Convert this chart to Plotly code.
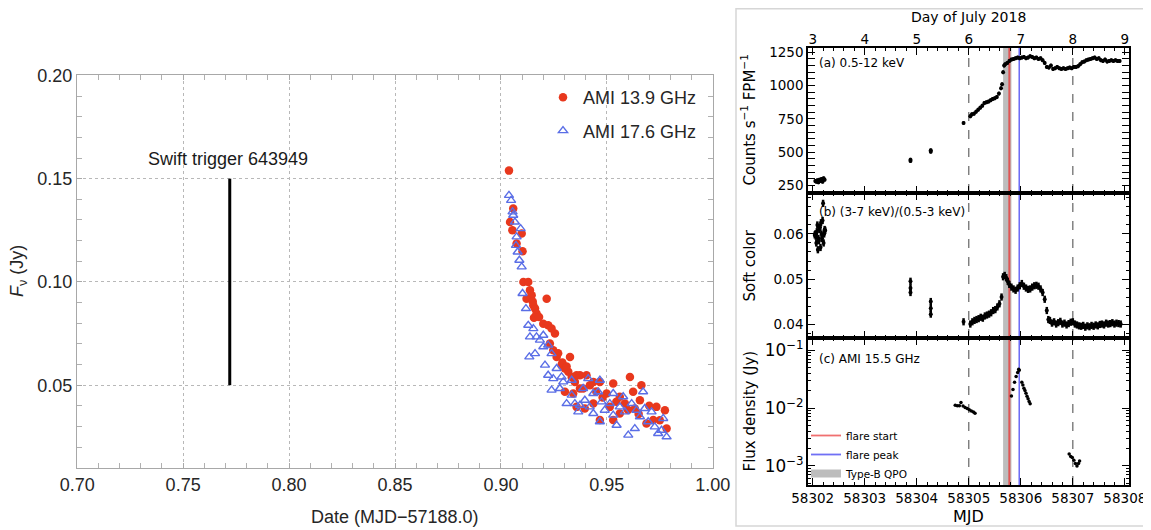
import plotly.graph_objects as go

# The page body has an 8px margin; positions below are given in window pixels.
OFF = 8
FW, FH = 1143, 522
def px(v): return (v - OFF) / FW
def py(v): return 1 - (v - OFF) / FH

# ---------------- Left chart data ----------------
red_x = [0.9038, 0.9043, 0.9054, 0.9058, 0.9074, 0.9098, 0.9102, 0.9106, 0.9129, 0.9137,
         0.9145, 0.9121, 0.9153, 0.9161, 0.9168, 0.9156, 0.9216, 0.9200, 0.9223, 0.9239,
         0.9255, 0.9231, 0.9247, 0.9263, 0.9326, 0.9286, 0.9302, 0.9318, 0.9334, 0.9357,
         0.9373, 0.9404, 0.9349, 0.9373, 0.9341, 0.9357, 0.9396, 0.9436, 0.9467, 0.9499,
         0.9530, 0.9514, 0.9467, 0.9561, 0.9609, 0.9624, 0.9585, 0.9663, 0.9656, 0.9687,
         0.9719, 0.9774, 0.9782, 0.9561, 0.9436, 0.9302, 0.9388, 0.9734, 0.9632, 0.9530,
         0.9150, 0.9180, 0.9270, 0.9290, 0.9310, 0.9420, 0.9450, 0.9480, 0.9545, 0.9600,
         0.9650, 0.9700, 0.9750]
red_y = [0.1539, 0.1290, 0.1250, 0.1355, 0.1186, 0.1234, 0.1148, 0.1000, 0.1000, 0.0960,
         0.0936, 0.0919, 0.0887, 0.0871, 0.0847, 0.0827, 0.0919, 0.0798, 0.0790, 0.0774,
         0.0750, 0.0702, 0.0669, 0.0637, 0.0637, 0.0597, 0.0581, 0.0565, 0.0540, 0.0548,
         0.0548, 0.0548, 0.0516, 0.0484, 0.0460, 0.0395, 0.0387, 0.0516, 0.0516, 0.0460,
         0.0508, 0.0395, 0.0331, 0.0444, 0.0540, 0.0468, 0.0411, 0.0500, 0.0427, 0.0315,
         0.0331, 0.0379, 0.0290, 0.0363, 0.0411, 0.0468, 0.0484, 0.0395, 0.0387, 0.0331,
         0.0905, 0.0830, 0.0655, 0.0610, 0.0590, 0.0500, 0.0470, 0.0440, 0.0420, 0.0380,
         0.0360, 0.0400, 0.0330]

blue_x = [0.9038, 0.9048, 0.9055, 0.9058, 0.9066, 0.9074, 0.9093, 0.9071, 0.9079, 0.9087,
          0.9098, 0.9102, 0.9118, 0.9129, 0.9137, 0.9153, 0.9168, 0.9184, 0.9200, 0.9223,
          0.9239, 0.9134, 0.9161, 0.9208, 0.9223, 0.9247, 0.9263, 0.9239, 0.9278, 0.9294,
          0.9310, 0.9334, 0.9349, 0.9365, 0.9388, 0.9396, 0.9412, 0.9419, 0.9459, 0.9467,
          0.9475, 0.9490, 0.9467, 0.9514, 0.9530, 0.9546, 0.9561, 0.9585, 0.9601, 0.9617,
          0.9632, 0.9640, 0.9656, 0.9671, 0.9679, 0.9695, 0.9711, 0.9726, 0.9742, 0.9766,
          0.9758, 0.9782, 0.9334, 0.9373, 0.9436, 0.9530, 0.9577, 0.9436, 0.9286, 0.9200]
blue_y = [0.1419, 0.1395, 0.1339, 0.1323, 0.1290, 0.1218, 0.1258, 0.1177, 0.1145, 0.1105,
          0.1073, 0.0944, 0.0871, 0.0790, 0.0734, 0.0774, 0.0734, 0.0718, 0.0742, 0.0694,
          0.0653, 0.0637, 0.0653, 0.0597, 0.0548, 0.0532, 0.0581, 0.0476, 0.0484, 0.0516,
          0.0411, 0.0452, 0.0411, 0.0371, 0.0484, 0.0427, 0.0532, 0.0395, 0.0468, 0.0524,
          0.0419, 0.0379, 0.0323, 0.0411, 0.0355, 0.0306, 0.0395, 0.0371, 0.0258, 0.0411,
          0.0290, 0.0379, 0.0347, 0.0468, 0.0387, 0.0323, 0.0371, 0.0298, 0.0266, 0.0339,
          0.0282, 0.0250, 0.0524, 0.0403, 0.0363, 0.0460, 0.0444, 0.0460, 0.0540, 0.0686]

swift_x = [0.772, 0.772]
swift_y = [0.05, 0.15]

# ---------------- Right chart data ----------------
a_mjd = [58302.05, 58302.07, 58302.09, 58302.11, 58302.13, 58302.15, 58302.17, 58302.19,
         58302.21, 58302.23, 58303.88, 58303.88, 58304.27, 58304.27, 58304.90,
         58305.03, 58305.06, 58305.10, 58305.14, 58305.18, 58305.22, 58305.26, 58305.30,
         58305.34, 58305.38, 58305.42, 58305.46, 58305.50, 58305.54, 58305.58, 58305.62,
         58305.64, 58305.66, 58305.68, 58305.70, 58305.74, 58305.78, 58305.82, 58305.86,
         58305.90, 58305.94, 58305.98, 58306.02, 58306.06, 58306.10, 58306.14, 58306.18,
         58306.22, 58306.26, 58306.30, 58306.34, 58306.38, 58306.42, 58306.46, 58306.50,
         58306.54, 58306.58, 58306.62, 58306.66, 58306.70, 58306.74, 58306.78, 58306.82,
         58306.86, 58306.90, 58306.94, 58306.98, 58307.02, 58307.06, 58307.10, 58307.14,
         58307.18, 58307.22, 58307.26, 58307.30, 58307.34, 58307.38, 58307.42, 58307.46,
         58307.50, 58307.54, 58307.58, 58307.62, 58307.66, 58307.70, 58307.74, 58307.78,
         58307.82, 58307.86, 58307.90]
a_counts = [285, 280, 290, 275, 295, 285, 300, 280, 305, 295, 435, 445, 505, 515, 720,
            770, 785, 790, 805, 820, 835, 850, 870, 875, 880, 890, 900, 905, 915, 940, 980,
            1010, 1100, 1150, 1160, 1170, 1185, 1195, 1200, 1205, 1210, 1205, 1210, 1215,
            1205, 1210, 1220, 1215, 1205, 1210, 1200, 1205, 1190, 1170, 1140, 1135, 1150,
            1125, 1130, 1140, 1130, 1125, 1130, 1125, 1130, 1135, 1130, 1140, 1140, 1145,
            1160, 1175, 1180, 1190, 1195, 1200, 1205, 1210, 1200, 1205, 1190, 1185, 1195,
            1180, 1185, 1190, 1185, 1190, 1185, 1185]

b_mjd = [58302.05, 58302.07, 58302.09, 58302.11, 58302.13, 58302.15, 58302.17, 58302.19,
         58302.21, 58302.23, 58302.10, 58302.16, 58302.20, 58302.06, 58302.08, 58302.12,
         58302.14, 58302.18, 58302.22, 58302.04, 58302.24,
         58303.88, 58303.88, 58303.88,
         58304.27, 58304.27, 58304.27, 58304.90,
         58305.03, 58305.07, 58305.11, 58305.15, 58305.19, 58305.23, 58305.27, 58305.31,
         58305.35, 58305.39, 58305.43, 58305.47, 58305.51, 58305.55, 58305.59, 58305.63,
         58305.66, 58305.69, 58305.72, 58305.75, 58305.78, 58305.82, 58305.86, 58305.90,
         58305.94, 58305.98, 58306.02, 58306.06, 58306.10, 58306.14, 58306.18, 58306.22,
         58306.26, 58306.30, 58306.34, 58306.38, 58306.42, 58306.46, 58306.50, 58306.53,
         58306.56, 58306.60, 58306.64, 58306.68, 58306.72, 58306.76, 58306.80, 58306.84,
         58306.88, 58306.92, 58306.96, 58307.00, 58307.04, 58307.08, 58307.12, 58307.16,
         58307.20, 58307.24, 58307.28, 58307.32, 58307.36, 58307.40, 58307.44, 58307.48,
         58307.52, 58307.56, 58307.60, 58307.64, 58307.68, 58307.72, 58307.76, 58307.80,
         58307.84, 58307.88, 58307.92]
b_color = [0.0600, 0.0580, 0.0620, 0.0590, 0.0610, 0.0570, 0.0600, 0.0630, 0.0580, 0.0610,
           0.0565, 0.0625, 0.0668, 0.0595, 0.0605, 0.0585, 0.0615, 0.0590, 0.0600, 0.0598,
           0.0608,
           0.0495, 0.0480, 0.0470,
           0.0450, 0.0435, 0.0422, 0.0405,
           0.0400, 0.0405, 0.0408, 0.0410, 0.0412, 0.0415, 0.0413, 0.0418, 0.0420, 0.0422,
           0.0425, 0.0430, 0.0432, 0.0438, 0.0445, 0.0460, 0.0505, 0.0508, 0.0503, 0.0495,
           0.0488, 0.0482, 0.0478, 0.0475, 0.0480, 0.0485, 0.0490, 0.0484, 0.0480, 0.0477,
           0.0478, 0.0482, 0.0485, 0.0486, 0.0484, 0.0478, 0.0470, 0.0455, 0.0430, 0.0410,
           0.0408, 0.0402, 0.0405, 0.0400, 0.0403, 0.0406, 0.0400, 0.0402, 0.0398, 0.0401,
           0.0404, 0.0405, 0.0400, 0.0398, 0.0396, 0.0395, 0.0397, 0.0393, 0.0396, 0.0394,
           0.0397, 0.0395, 0.0398, 0.0396, 0.0399, 0.0400, 0.0398, 0.0402, 0.0400, 0.0401,
           0.0403, 0.0400, 0.0402, 0.0401, 0.0400]

c_mjd = [58304.74, 58304.78, 58304.82, 58304.85, 58304.89, 58304.93, 58304.97, 58305.01,
         58305.05, 58305.09, 58305.12,
         58305.82, 58305.85, 58305.88, 58305.91, 58305.94, 58305.96, 58305.97,
         58306.02, 58306.04, 58306.06, 58306.08, 58306.10, 58306.12, 58306.14, 58306.16,
         58306.18,
         58306.93, 58306.96, 58306.99, 58307.02, 58307.05, 58307.08, 58307.11, 58307.13]
c_flux = [0.0112, 0.0110, 0.0110, 0.0124, 0.0108, 0.0102, 0.0098, 0.0093, 0.0089, 0.0085,
          0.0081,
          0.0162, 0.0210, 0.0280, 0.0350, 0.0410, 0.0470, 0.0450,
          0.0280, 0.0250, 0.0220, 0.0200, 0.0180, 0.0160, 0.0145, 0.0130, 0.0118,
          0.00160, 0.00145, 0.00140, 0.00125, 0.00110, 0.00100, 0.00110, 0.00122]

qpo_band = [58305.66, 58305.82]
flare_start = 58305.78
flare_peak = 58305.97
dashed_mjd = [58305.0, 58307.0]
mjd_to_day_offset = 58299

LF = "Liberation Sans"
RF = "DejaVu Sans"
RED = "#e8381d"
BLUE = "#5a6ee6"

fig = go.Figure()

# Left traces
fig.add_trace(go.Scatter(x=swift_x, y=swift_y, mode="lines", line=dict(color="black", width=3),
                         showlegend=False, xaxis="x", yaxis="y"))
fig.add_trace(go.Scatter(x=red_x, y=red_y, mode="markers", name="AMI 13.9 GHz",
                         marker=dict(color=RED, size=8.5, symbol="circle"),
                         legendgroup="g1", xaxis="x", yaxis="y"))
fig.add_trace(go.Scatter(x=blue_x, y=blue_y, mode="markers", name="AMI 17.6 GHz",
                         marker=dict(color=BLUE, size=8, symbol="triangle-up-open", line=dict(width=1.4)),
                         legendgroup="g2", xaxis="x", yaxis="y"))

# Right traces
fig.add_trace(go.Scatter(x=a_mjd, y=a_counts, mode="markers", showlegend=False,
                         marker=dict(color="black", size=4),
                         error_y=dict(type="constant", value=14, color="black", thickness=2, width=0),
                         xaxis="x2", yaxis="y2"))
fig.add_trace(go.Scatter(x=b_mjd, y=b_color, mode="markers", showlegend=False,
                         marker=dict(color="black", size=4),
                         error_y=dict(type="constant", value=0.0008, color="black", thickness=2.5, width=0),
                         xaxis="x3", yaxis="y3"))
fig.add_trace(go.Scatter(x=c_mjd, y=c_flux, mode="markers", showlegend=False,
                         marker=dict(color="black", size=3.5),
                         xaxis="x4", yaxis="y4"))
# invisible trace that carries the top "Day of July" axis
fig.add_trace(go.Scatter(x=[a_mjd[0] - mjd_to_day_offset], y=[a_counts[0]], mode="markers",
                         marker=dict(opacity=0), showlegend=False, hoverinfo="skip",
                         xaxis="x5", yaxis="y2"))

# legend2 entries
fig.add_trace(go.Scatter(x=[None], y=[None], mode="lines", name="flare start",
                         line=dict(color="#f07070", width=1.8), legend="legend2", xaxis="x4", yaxis="y4"))
fig.add_trace(go.Scatter(x=[None], y=[None], mode="lines", name="flare peak",
                         line=dict(color="#7070f5", width=1.8), legend="legend2", xaxis="x4", yaxis="y4"))
fig.add_trace(go.Scatter(x=[None], y=[None], mode="lines", name="Type-B QPO",
                         line=dict(color="#bdbdbd", width=8), legend="legend2", xaxis="x4", yaxis="y4"))

shapes = []
for xa, ya in [("x2", "y2"), ("x3", "y3"), ("x4", "y4")]:
    shapes.append(dict(type="rect", xref=xa, yref=f"{ya} domain", x0=qpo_band[0], x1=qpo_band[1],
                       y0=0, y1=1, fillcolor="#bdbdbd", line=dict(width=0), layer="below"))
    shapes.append(dict(type="line", xref=xa, yref=f"{ya} domain", x0=flare_start, x1=flare_start,
                       y0=0, y1=1, line=dict(color="#e05555", width=2), layer="below"))
    shapes.append(dict(type="line", xref=xa, yref=f"{ya} domain", x0=flare_peak, x1=flare_peak,
                       y0=0, y1=1, line=dict(color="#6a6af5", width=1.5), layer="below"))
    for d in dashed_mjd:
        shapes.append(dict(type="line", xref=xa, yref=f"{ya} domain", x0=d, x1=d, y0=0, y1=1,
                           line=dict(color="#707070", width=1.3, dash="dash"), layer="below"))
shapes.append(dict(type="rect", xref="paper", yref="paper", x0=px(736), x1=px(1150),
                   y0=py(526), y1=py(8.8), line=dict(color="#d6d6d6", width=1.5)))

left_common = dict(showline=True, linecolor="#a8a8a8", linewidth=1.3, mirror="allticks",
                   ticks="inside", ticklen=5, tickcolor="#a8a8a8", tickwidth=1,
                   showgrid=True, gridcolor="#b8b8b8", griddash="dot", gridwidth=1, zeroline=False,
                   tickfont=dict(family=LF, size=18, color="#262626"))
right_common = dict(showline=True, linecolor="black", linewidth=1.5, mirror="allticks",
                    ticks="inside", ticklen=7, tickwidth=1.3, tickcolor="black",
                    showgrid=False, zeroline=False,
                    tickfont=dict(family=RF, size=13.5, color="black"))
xr = [58301.91, 58308.08]
xdom = [px(808), px(1129)]
xminor = dict(ticks="inside", ticklen=3.5, tickwidth=1, tickcolor="black", dtick=0.2, tick0=58302)

fig.update_layout(
    width=FW, height=FH, margin=dict(l=0, r=0, t=0, b=0),
    paper_bgcolor="white", plot_bgcolor="white", template="none",
    xaxis=dict(domain=[px(77), px(713)], range=[0.6999, 1.0001], anchor="y", tick0=0.70, dtick=0.05,
               tickformat=".2f",
               minor=dict(ticks="inside", ticklen=5, tickcolor="#b0b0b0", dtick=0.01, showgrid=False),
               **left_common),
    yaxis=dict(domain=[py(468), py(75)], range=[0.0099, 0.2002], anchor="x", tick0=0, dtick=0.05,
               tickformat=".2f",
               minor=dict(ticks="inside", ticklen=5, tickcolor="#b0b0b0", dtick=0.01, showgrid=False),
               **left_common),
    xaxis2=dict(domain=xdom, range=xr, anchor="y2", dtick=1, tick0=58302, showticklabels=False,
                minor=xminor, **right_common),
    yaxis2=dict(domain=[py(193), py(48)], range=[195, 1282], anchor="x2", dtick=250, tick0=0,
                minor=dict(ticks="inside", ticklen=3.5, tickwidth=1, tickcolor="black", dtick=50),
                **right_common),
    xaxis3=dict(domain=xdom, range=xr, anchor="y3", dtick=1, tick0=58302, showticklabels=False,
                matches="x2", minor=xminor, **right_common),
    yaxis3=dict(domain=[py(338), py(193)], range=[0.0369, 0.0691], anchor="x3", dtick=0.01, tick0=0,
                tickformat=".2f",
                minor=dict(ticks="inside", ticklen=3.5, tickwidth=1, tickcolor="black", dtick=0.002),
                **right_common),
    xaxis4=dict(domain=xdom, range=xr, anchor="y4", dtick=1, tick0=58302, tickformat="d",
                matches="x2", minor=xminor, **right_common),
    yaxis4=dict(domain=[py(485), py(338)], range=[-3.33, -0.79], anchor="x4", type="log", dtick=1,
                exponentformat="power",
                minor=dict(ticks="inside", ticklen=3.5, tickwidth=1, tickcolor="black", dtick="D1"),
                **right_common),
    xaxis5=dict(domain=xdom, range=[xr[0] - mjd_to_day_offset, xr[1] - mjd_to_day_offset],
                anchor="y2", overlaying="x2", side="top", dtick=1, tick0=3,
                showline=False, ticks="", showgrid=False, zeroline=False,
                tickfont=dict(family=RF, size=13.5, color="black")),
    legend=dict(x=px(543), y=py(79), xanchor="left", yanchor="top", bgcolor="rgba(0,0,0,0)",
                font=dict(family=LF, size=18, color="#262626"), tracegroupgap=7,
                itemsizing="trace"),
    legend2=dict(x=px(806), y=py(421), xanchor="left", yanchor="top", bgcolor="rgba(0,0,0,0)",
                 font=dict(family=RF, size=10.5, color="black"), tracegroupgap=0, itemwidth=30),
    shapes=shapes,
    showlegend=True,
)

ann = []
ann.append(dict(text="Swift trigger 643949", x=0.771, y=0.1597, xref="x", yref="y",
                showarrow=False, font=dict(family=LF, size=18, color="#1a1a1a"),
                xanchor="center", yanchor="middle"))
ann.append(dict(text="<i>F</i><sub>ν</sub> (Jy)", x=px(18), y=py(271), xref="paper", yref="paper",
                showarrow=False, textangle=-90, font=dict(family=LF, size=18, color="#262626"),
                xanchor="center", yanchor="middle"))
ann.append(dict(text="Date (MJD−57188.0)", x=px(395), y=py(517), xref="paper", yref="paper",
                showarrow=False, font=dict(family=LF, size=18, color="#262626"),
                xanchor="center", yanchor="middle"))
for t, yc in [("Counts s<sup>−1</sup> FPM<sup>−1</sup>", 120.5), ("Soft color", 265.5),
              ("Flux density (Jy)", 411.5)]:
    ann.append(dict(text=t, x=px(749), y=py(yc), xref="paper", yref="paper", showarrow=False,
                    textangle=-90, font=dict(family=RF, size=15, color="black"),
                    xanchor="center", yanchor="middle"))
ann.append(dict(text="MJD", x=px(968), y=py(516), xref="paper", yref="paper", showarrow=False,
                font=dict(family=RF, size=16, color="black"), xanchor="center", yanchor="middle"))
ann.append(dict(text="Day of July 2018", x=px(968), y=py(16.5), xref="paper", yref="paper",
                showarrow=False, font=dict(family=RF, size=14, color="black"),
                xanchor="center", yanchor="middle"))
for t, yc in [("(a) 0.5-12 keV", 63), ("(b) (3-7 keV)/(0.5-3 keV)", 212), ("(c) AMI 15.5 GHz", 359)]:
    ann.append(dict(text=t, x=px(817), y=py(yc), xref="paper", yref="paper", showarrow=False,
                    font=dict(family=RF, size=12, color="black"), xanchor="left", yanchor="middle"))
fig.update_layout(annotations=ann)

fig.write_html("out.html")
